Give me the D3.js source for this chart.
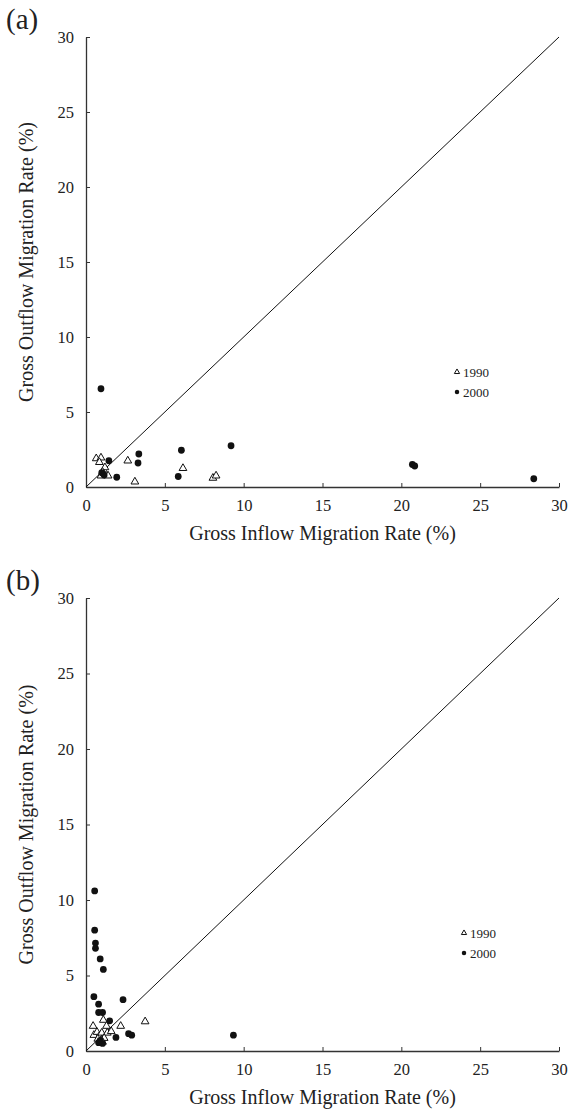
<!DOCTYPE html>
<html>
<head>
<meta charset="utf-8">
<script src="https://cdn.jsdelivr.net/npm/d3@7"></script>
<style>
  body { margin: 0; background: #fff; }
  svg { display: block; }
  text { font-family: 'Liberation Serif', 'Times New Roman', serif; fill: #222; }
</style>
</head>
<body>
<svg id="chart" width="568" height="1113"></svg>
<script>
// tick values shared by both panels
const ticks = [0, 5, 10, 15, 20, 25, 30]
const seriesNames = ['1990', '2000']

// panel (a): [inflow, outflow]
const a1990 = [
  [0.65, 1.9], [0.95, 1.95], [0.85, 1.65], [1.2, 1.3], [1.05, 1.0],
  [1.3, 0.8], [0.95, 0.75], [1.4, 0.75], [2.65, 1.75], [3.1, 0.35],
  [6.15, 1.25], [8.05, 0.6], [8.25, 0.75],
]
const a2000 = [
  [0.95, 6.55], [1.45, 1.75], [3.35, 2.2], [3.3, 1.6], [1.95, 0.65],
  [1.0, 0.95], [1.15, 0.8], [6.05, 2.45], [5.85, 0.7], [9.2, 2.75],
  [20.7, 1.5], [20.85, 1.4], [28.4, 0.55],
]

// panel (b)
const b1990 = [
  [0.45, 1.65], [1.1, 2.05], [1.3, 1.65], [2.2, 1.65], [3.75, 1.95],
  [0.5, 1.05], [0.7, 1.25], [0.85, 1.0], [1.0, 1.2], [1.35, 1.2],
  [1.6, 1.3], [0.75, 0.8], [0.95, 0.7], [1.15, 0.85], [1.05, 0.6],
]
const b2000 = [
  [0.55, 10.6], [0.55, 8.0], [0.6, 7.15], [0.6, 6.8], [0.9, 6.1],
  [1.1, 5.4], [0.5, 3.6], [2.35, 3.4], [0.8, 3.1], [0.8, 2.55],
  [1.05, 2.55], [1.5, 2.0], [1.9, 0.9], [2.7, 1.15], [2.9, 1.05],
  [9.35, 1.05], [0.9, 0.7], [1.05, 0.5], [0.8, 0.55],
]

const svg = d3.select('#chart')

const tri = d3.symbol().type(d3.symbolTriangle)
const dot = d3.symbol().type(d3.symbolCircle)

function drawPanel(label, tris, dots, top, bottom, legend) {
  const g = svg.append('g')

  const x = d3.scaleLinear().domain([0, 30]).range([86, 559])
  const y = d3.scaleLinear().domain([0, 30]).range([bottom, top])

  g.append('g')
    .attr('transform', `translate(0, ${bottom})`)
    .call(d3.axisBottom(x).tickValues(ticks).tickSizeInner(-4).tickSizeOuter(0).tickPadding(12))
    .call((ax) => {
      ax.select('.domain').attr('stroke', '#333').attr('stroke-width', 1.5)
      ax.selectAll('.tick line').attr('stroke', '#333')
      ax.selectAll('text').style('font-size', '16.5px').attr('font-family', null)
    })

  g.append('g')
    .attr('transform', 'translate(86, 0)')
    .call(d3.axisLeft(y).tickValues(ticks).tickSizeInner(-4).tickSizeOuter(0).tickPadding(12))
    .call((ax) => {
      ax.select('.domain').attr('stroke', '#333').attr('stroke-width', 1.3)
      ax.selectAll('.tick line').attr('stroke', '#333')
      ax.selectAll('text').style('font-size', '16.5px').attr('font-family', null)
    })

  // 45 degree reference line
  g.append('line')
    .attr('x1', x(0)).attr('y1', y(0))
    .attr('x2', x(30)).attr('y2', y(30))
    .attr('stroke', '#111')
    .attr('stroke-width', 1)

  g.selectAll('.tri')
    .data(tris)
    .enter()
    .append('path')
    .attr('class', 'tri')
    .attr('d', tri.size(26))
    .attr('transform', (d) => `translate(${x(d[0])}, ${y(d[1])})`)
    .attr('fill', '#fff')
    .attr('stroke', '#111')
    .attr('stroke-width', 1)

  g.selectAll('.dot')
    .data(dots)
    .enter()
    .append('path')
    .attr('class', 'dot')
    .attr('d', dot.size(36))
    .attr('transform', (d) => `translate(${x(d[0])}, ${y(d[1])})`)
    .attr('fill', '#111')

  // legend
  const lg = g.append('g').attr('transform', `translate(${legend[0]}, ${legend[1]})`)
  lg.append('path').attr('d', tri.size(12)).attr('fill', '#fff').attr('stroke', '#111')
  lg.append('path').attr('d', dot.size(16)).attr('fill', '#111').attr('transform', 'translate(0, 20)')
  lg.selectAll('.lt')
    .data(seriesNames)
    .enter()
    .append('text')
    .attr('x', 6)
    .attr('y', (d, i) => i * 20 + 4.5)
    .style('font-size', '13px')
    .text((d) => d)

  g.append('text')
    .attr('text-anchor', 'middle')
    .attr('x', (x(0) + x(30)) / 2)
    .attr('y', bottom + 53)
    .style('font-size', '20px')
    .text('Gross Inflow Migration Rate (%)')

  g.append('text')
    .attr('text-anchor', 'middle')
    .attr('transform', `translate(33, ${(top + bottom) / 2}) rotate(-90)`)
    .style('font-size', '20px')
    .text('Gross Outflow Migration Rate (%)')

  g.append('text')
    .attr('x', 6)
    .attr('y', top - 8)
    .style('font-size', '29px')
    .text(label)
}

drawPanel('(a)', a1990, a2000, 37, 487, [457, 372])
drawPanel('(b)', b1990, b2000, 598, 1051, [464, 933])
</script>
</body>
</html>
